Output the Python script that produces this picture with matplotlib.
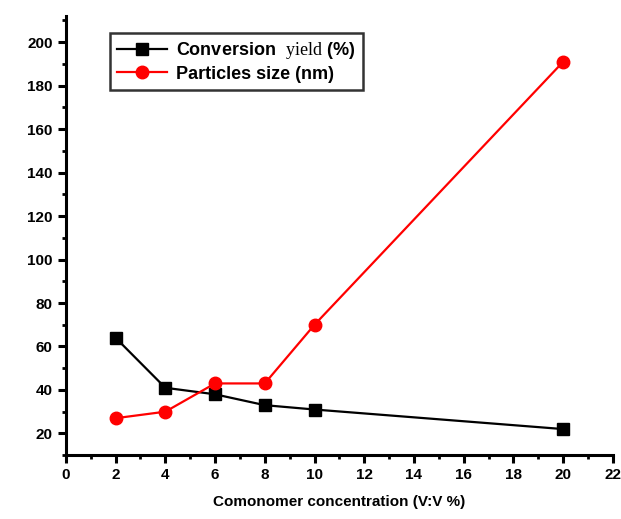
import matplotlib
matplotlib.use("Agg")
from matplotlib import pyplot as plt
from matplotlib.ticker import MultipleLocator

conc = [2, 4, 6, 8, 10, 20]
conversion = [64, 41, 38, 33, 31, 22]
particle_size = [27, 30, 43, 43, 70, 191]

x_ticks = list(range(0, 23, 2))
y_ticks = list(range(20, 201, 20))

plt.rcParams['font.family'] = ['Liberation Sans', 'DejaVu Sans']
plt.rcParams['mathtext.fontset'] = 'custom'
plt.rcParams['mathtext.rm'] = 'Liberation Serif'

fig = plt.figure(figsize=(6.21, 5.19), dpi=100)
ax = fig.add_axes([0.106, 0.123, 0.881, 0.846])

ax.plot(conc, conversion, color='black', marker='s', markersize=8, lw=1.6,
        label=r'Conversion  $\mathrm{yield}$ (%)')
ax.plot(conc, particle_size, color='red', marker='o', markersize=9, lw=1.6,
        label='Particles size (nm)')

ax.set_xlim(0, 22)
ax.set_ylim(10, 212)
ax.set_xticks(x_ticks)
ax.set_yticks(y_ticks)
ax.xaxis.set_minor_locator(MultipleLocator(1))
ax.yaxis.set_minor_locator(MultipleLocator(10))

for s in ['top', 'right']:
    ax.spines[s].set_visible(False)
for s in ['left', 'bottom']:
    ax.spines[s].set_linewidth(2.2)

ax.tick_params(which='major', direction='out', length=6, width=2.2, labelsize=11)
ax.tick_params(which='minor', direction='out', length=3, width=2)
for lab in ax.get_xticklabels() + ax.get_yticklabels():
    lab.set_fontweight('bold')

ax.set_xlabel('Comonomer concentration (V:V %)', fontsize=11, fontweight='bold',
              labelpad=9)

leg = ax.legend(loc='upper left', bbox_to_anchor=(0.08, 0.962), borderaxespad=0,
                prop={'size': 13, 'weight': 'bold'},
                frameon=True, fancybox=False, edgecolor='black',
                handlelength=2.8, borderpad=0.4, labelspacing=0.25,
                handletextpad=0.5)
leg.get_frame().set_linewidth(1.8)

fig.savefig('out.png', dpi=100)
